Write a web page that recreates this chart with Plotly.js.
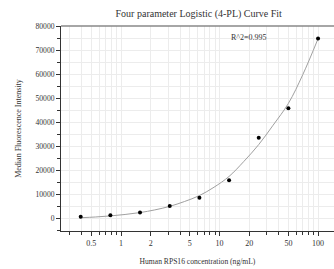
<!DOCTYPE html>
<html>
<head>
<meta charset="utf-8">
<script src="https://cdn.plot.ly/plotly-3.0.1.min.js"></script>
<style>html,body{margin:0;padding:0;background:#fff;}#chart{width:334px;height:269px;}</style>
</head>
<body>
<div id="chart"></div>
<script>
// Measured standards
const concentration = [0.39, 0.78, 1.56, 3.125, 6.25, 12.5, 25, 50, 100];
const mfi = [700, 1250, 2450, 5150, 8600, 15900, 33600, 46000, 75100];

// Fitted 4-PL curve
const curveX = [0.39, 0.55, 0.78, 1.1, 1.56, 2.2, 3.125, 4.4, 6.25, 8.8, 12.5, 17.7, 25, 35, 50, 70, 100];
const curveY = [250, 550, 1000, 1600, 2400, 3500, 5000, 7000, 9500, 13000, 17500, 23800, 30800, 38900, 48000, 60000, 75000];

const xTickVals = [0.5, 1, 2, 5, 10, 20, 50, 100];
const xTickText = ['0.5', '1', '2', '5', '10', '20', '50', '100'];
const xMinorVals = [0.3, 0.4, 0.6, 0.7, 0.8, 0.9, 3, 4, 6, 7, 8, 9, 30, 40, 60, 70, 80, 90];
const yTickVals = [0, 10000, 20000, 30000, 40000, 50000, 60000, 70000, 80000];
const yTickText = ['0', '10000', '20000', '30000', '40000', '50000', '60000', '70000', '80000'];

const serif = 'Liberation Serif, Times New Roman, serif';

const traces = [
  {x: curveX, y: curveY, type: 'scatter', mode: 'lines',
   line: {color: '#a0a0a0', width: 1, shape: 'spline'}, hoverinfo: 'skip'},
  {x: concentration, y: mfi, type: 'scatter', mode: 'markers',
   marker: {color: '#000', size: 4}}
];

const layout = {
  width: 334, height: 269,
  margin: {l: 61, r: 0, t: 26, b: 38},
  paper_bgcolor: '#fff', plot_bgcolor: '#fff',
  showlegend: false,
  font: {family: serif, size: 8, color: '#333'},
  title: {text: 'Four parameter Logistic (4-PL) Curve Fit', font: {family: serif, size: 10, color: '#333'},
          xref: 'container', x: 0.595, xanchor: 'center', yref: 'container', y: 0.948, yanchor: 'middle'},
  xaxis: {
    type: 'log', range: [-0.609, 2.162],
    tickmode: 'array', tickvals: xTickVals, ticktext: xTickText,
    ticks: 'outside', ticklen: 4, tickcolor: '#333', tickwidth: 1,
    showline: true, linecolor: '#333', linewidth: 1,
    showgrid: true, gridcolor: '#ececec', gridwidth: 1,
    minor: {tickmode: 'array', tickvals: xMinorVals, ticks: 'outside', ticklen: 3, tickcolor: '#333',
            showgrid: true, gridcolor: '#ececec', gridwidth: 1},
    zeroline: false,
    tickfont: {family: serif, size: 8, color: '#333'},
    title: {text: 'Human RPS16 concentration (ng/mL)', font: {family: serif, size: 7.6, color: '#333'}, standoff: 12}
  },
  yaxis: {
    range: [-5300, 80330],
    tickmode: 'array', tickvals: yTickVals, ticktext: yTickText,
    ticks: 'outside', ticklen: 4, tickcolor: '#333', tickwidth: 1,
    showline: true, linecolor: '#333', linewidth: 1,
    showgrid: true, gridcolor: '#ececec', gridwidth: 1,
    minor: {dtick: 5000, ticks: 'outside', ticklen: 3, tickcolor: '#333', showgrid: true, gridcolor: '#ececec'},
    zeroline: false,
    tickfont: {family: serif, size: 7.6, color: '#333'},
    title: {text: 'Median Fluorescence Intensity', font: {family: serif, size: 8, color: '#333'}, standoff: 12}
  },
  shapes: [{type: 'line', xref: 'paper', yref: 'paper', x0: 0, x1: 1, y0: 1, y1: 1,
            line: {color: '#888', width: 1.5}}],
  annotations: [{
    x: 1.3, y: 75400, xref: 'x', yref: 'y', text: 'R^2=0.995', showarrow: false,
    font: {family: serif, size: 8, color: '#333'}, xanchor: 'center', yanchor: 'middle'
  }]
};

Plotly.newPlot('chart', traces, layout, {displayModeBar: false, staticPlot: true});
</script>
</body>
</html>
